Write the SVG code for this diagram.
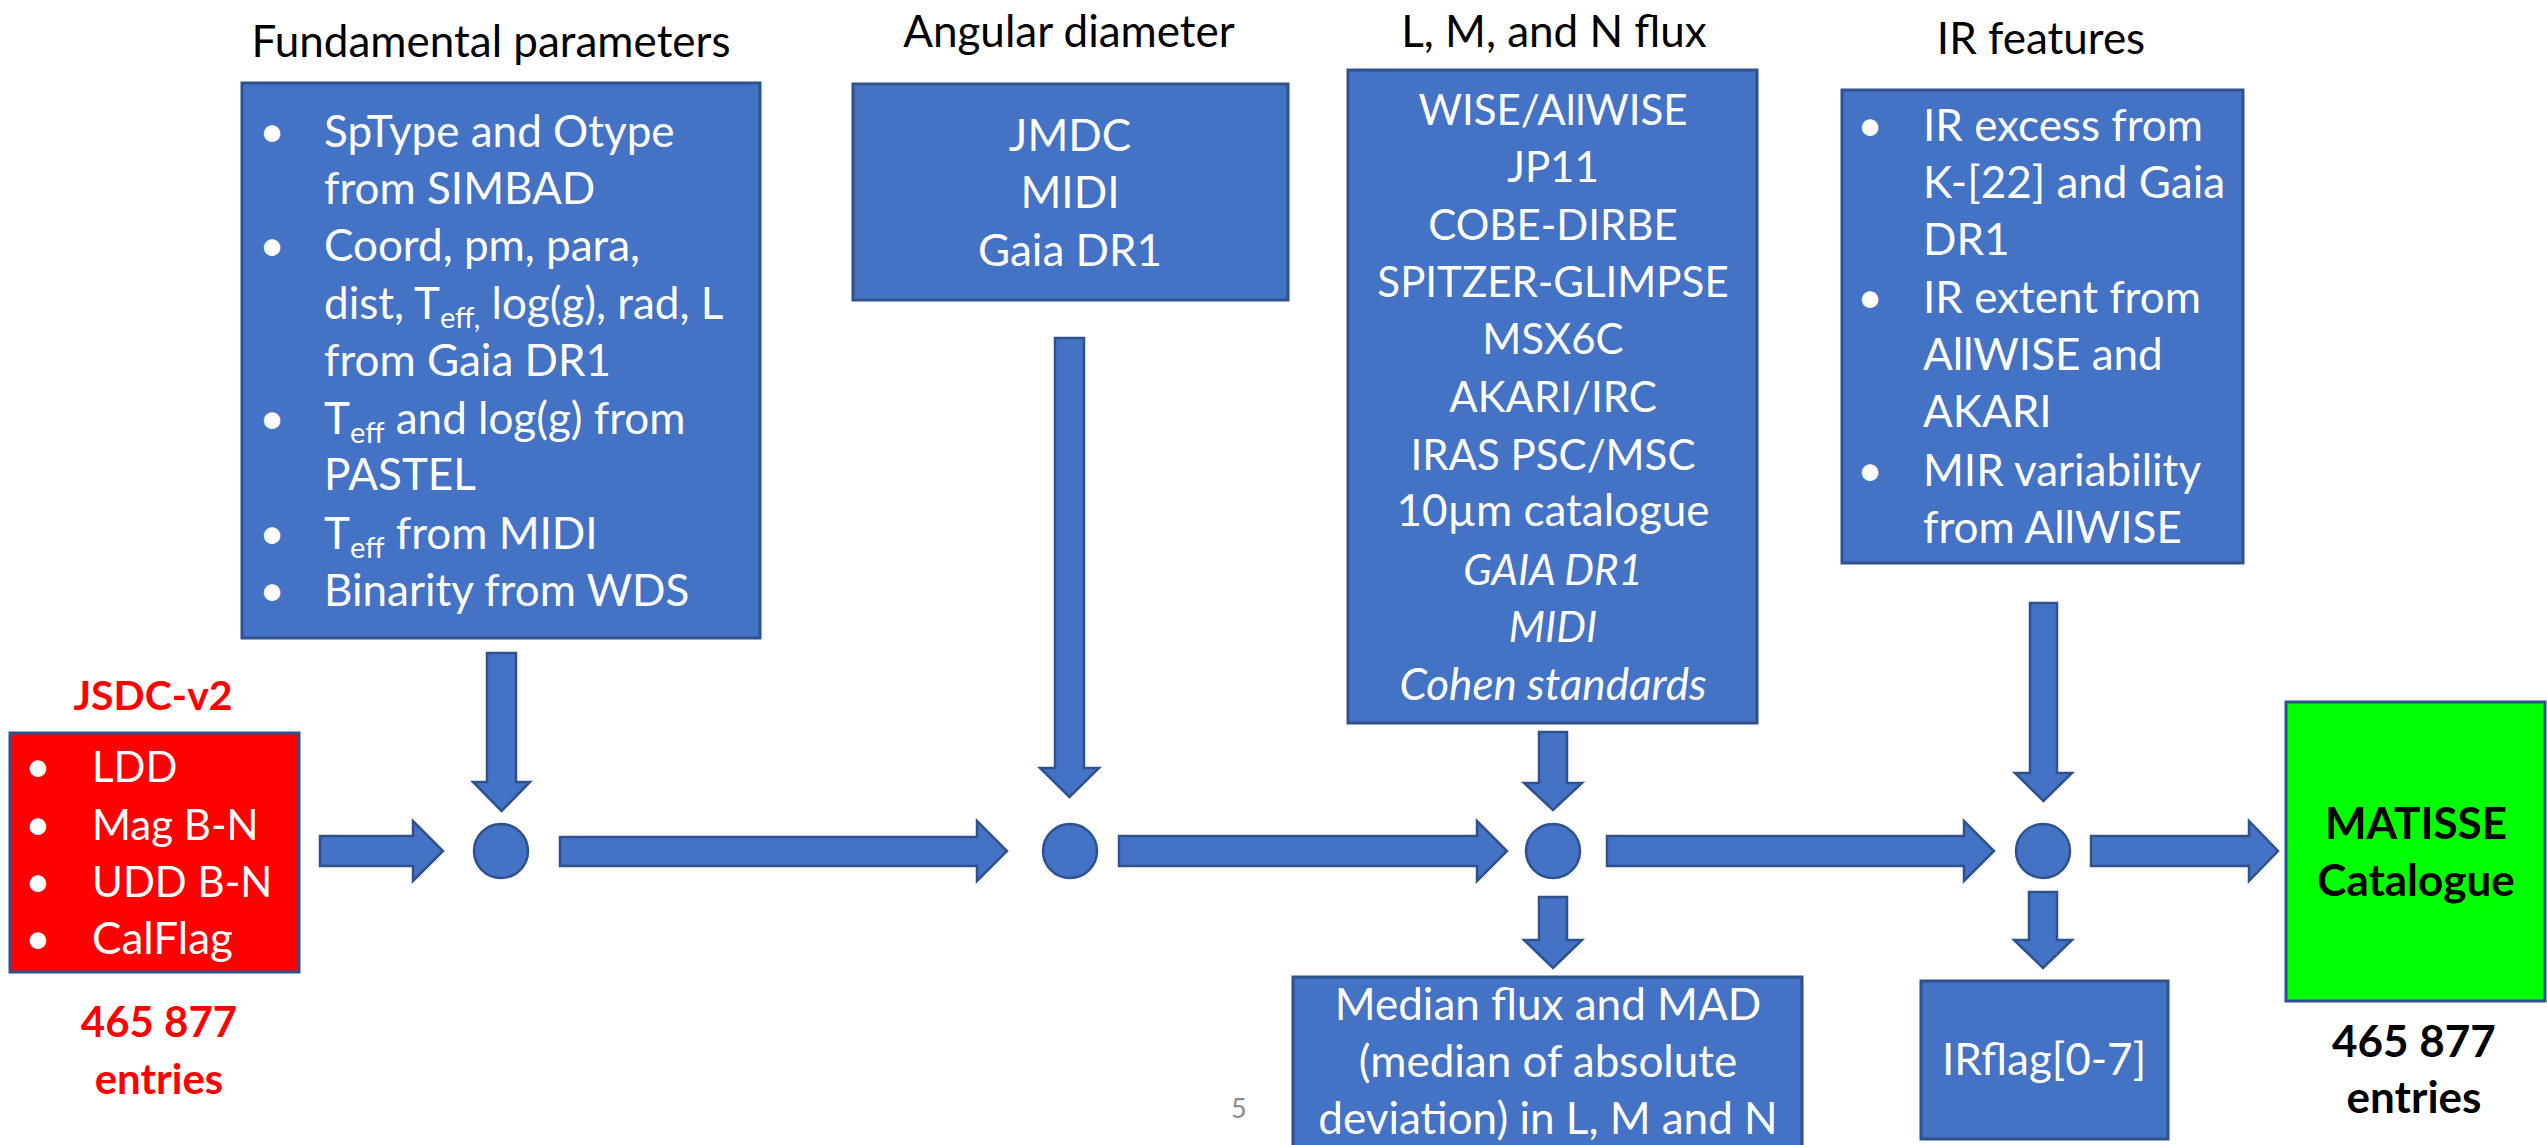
<svg xmlns="http://www.w3.org/2000/svg" width="2547" height="1145" viewBox="0 0 2547 1145">
<style>
text{font-family:Lato,"Open Sans","Liberation Sans",sans-serif;font-size:44px}
.box{fill:#4472C4;stroke:#2F528F;stroke-width:3}
.arr{fill:#4472C4;stroke:#2F528F;stroke-width:2.5;stroke-linejoin:miter}
.w{fill:#fff}
.c{text-anchor:middle}
.t{fill:#000}
.red{fill:#FF0000;font-weight:bold;font-size:42px}
.bk{fill:#000;font-weight:bold}
.it{font-style:italic}
.sub{font-size:29px}
.cap{font-size:42px}
</style>
<rect width="2547" height="1145" fill="#fff"/>

<g id="titles">
<text class="t c" x="491" y="57">Fundamental parameters</text>
<text class="t c" x="1069" y="47">Angular diameter</text>
<text class="t c" x="1554" y="47">L, M, and N flux</text>
<text class="t c" x="2041" y="54">IR features</text>
</g>

<g id="fundamental">
<rect class="box" x="242" y="83" width="518" height="555"/>
<g class="w">
<text class="c" x="272" y="147">•</text>
<text x="324" y="147">SpType and Otype</text>
<text x="324" y="204">from SIMBAD</text>
<text class="c" x="272" y="261">•</text>
<text x="324" y="261">Coord, pm, para,</text>
<text x="324" y="319">dist, T<tspan class="sub" dy="9">eff,</tspan><tspan dy="-9"> log(g), rad, L</tspan></text>
<text x="324" y="376">from Gaia DR1</text>
<text class="c" x="272" y="434">•</text>
<text x="324" y="434">T<tspan class="sub" dy="9">eff</tspan><tspan dy="-9"> and log(g) from</tspan></text>
<text x="324" y="490">PASTEL</text>
<text class="c" x="272" y="549">•</text>
<text x="324" y="549">T<tspan class="sub" dy="9">eff</tspan><tspan dy="-9"> from MIDI</tspan></text>
<text class="c" x="272" y="606">•</text>
<text x="324" y="606">Binarity from WDS</text>
</g>
</g>

<g id="angular">
<rect class="box" x="853" y="84" width="435" height="216"/>
<g class="w c">
<text x="1070" y="151">JMDC</text>
<text x="1070" y="208">MIDI</text>
<text x="1070" y="266">Gaia DR1</text>
</g>
</g>

<g id="lmn">
<rect class="box" x="1348" y="70" width="409" height="653"/>
<g class="w c">
<text class="cap" x="1553" y="125">WISE/AllWISE</text>
<text class="cap" x="1553" y="182">JP11</text>
<text class="cap" x="1553" y="240">COBE-DIRBE</text>
<text class="cap" x="1553" y="297">SPITZER-GLIMPSE</text>
<text class="cap" x="1553" y="354">MSX6C</text>
<text class="cap" x="1553" y="412">AKARI/IRC</text>
<text class="cap" x="1553" y="470">IRAS PSC/MSC</text>
<text x="1553" y="526">10µm catalogue</text>
<text class="it cap" x="1553" y="585">GAIA DR1</text>
<text class="it cap" x="1553" y="642">MIDI</text>
<text class="it" x="1553" y="700">Cohen standards</text>
</g>
</g>

<g id="irfeatures">
<rect class="box" x="1842" y="90" width="401" height="473"/>
<g class="w">
<text class="c" x="1870" y="141">•</text>
<text x="1923" y="141">IR excess from</text>
<text x="1923" y="198">K-[22] and Gaia</text>
<text x="1923" y="255">DR1</text>
<text class="c" x="1870" y="313">•</text>
<text x="1923" y="313">IR extent from</text>
<text x="1923" y="370">AllWISE and</text>
<text x="1923" y="427">AKARI</text>
<text class="c" x="1870" y="486">•</text>
<text x="1923" y="486">MIR variability</text>
<text x="1923" y="543">from AllWISE</text>
</g>
</g>

<g id="jsdc">
<text class="red c" x="153" y="710" style="font-size:41px">JSDC-v2</text>
<rect x="10" y="733" width="289" height="239" fill="#FF0000" stroke="#2F528F" stroke-width="3"/>
<g class="w">
<text class="c" x="38" y="782">•</text>
<text class="cap" x="92" y="782">LDD</text>
<text class="c" x="38" y="840">•</text>
<text class="cap" x="92" y="840">Mag B-N</text>
<text class="c" x="38" y="897">•</text>
<text class="cap" x="92" y="897">UDD B-N</text>
<text class="c" x="38" y="954">•</text>
<text x="92" y="954">CalFlag</text>
</g>
<text class="red c" x="159" y="1037">465 877</text>
<text class="red c" x="159" y="1094">entries</text>
</g>

<g id="median">
<rect class="box" x="1293" y="977" width="509" height="175"/>
<g class="w c">
<text x="1548" y="1020">Median flux and MAD</text>
<text x="1548" y="1077">(median of absolute</text>
<text x="1548" y="1134">deviation) in L, M and N</text>
</g>
</g>

<g id="irflag">
<rect class="box" x="1921" y="981" width="247" height="158"/>
<text class="w c" x="2044" y="1075">IRflag[0-7]</text>
</g>

<g id="matisse">
<rect x="2286" y="702" width="259" height="299" fill="#00FF00" stroke="#2F528F" stroke-width="3"/>
<text class="bk c" x="2416" y="839">MATISSE</text>
<text class="bk c" x="2416" y="896">Catalogue</text>
<text class="bk c" x="2414" y="1057">465 877</text>
<text class="bk c" x="2414" y="1113">entries</text>
</g>

<g id="nodes">
<circle class="arr" id="merge1" cx="501" cy="851" r="27"/>
<circle class="arr" id="merge2" cx="1070" cy="851" r="27"/>
<circle class="arr" id="merge3" cx="1553" cy="851" r="27"/>
<circle class="arr" id="merge4" cx="2043" cy="851" r="27"/>
</g>

<g id="connectors">
<polygon class="arr" points="320,836 413,836 413,821 443,851 413,881 413,866 320,866"/>
<polygon class="arr" points="560,837 977,837 977,821 1007,851 977,881 977,866 560,866"/>
<polygon class="arr" points="1119,836 1477,836 1477,821 1507,851 1477,881 1477,866 1119,866"/>
<polygon class="arr" points="1607,836 1964,836 1964,821 1994,851 1964,881 1964,866 1607,866"/>
<polygon class="arr" points="2091,836 2249,836 2249,821 2278,851 2249,881 2249,866 2091,866"/>
<polygon class="arr" points="487,653 516,653 516,782 530,782 501.5,811 473,782 487,782"/>
<polygon class="arr" points="1055,338 1084,338 1084,768 1099,768 1069.5,797 1040,768 1055,768"/>
<polygon class="arr" points="1539,732 1567,732 1567,783 1582,783 1553,810 1524,783 1539,783"/>
<polygon class="arr" points="2030,603 2057,603 2057,773 2072,773 2043.5,801 2015,773 2030,773"/>
<polygon class="arr" points="1539,897 1567,897 1567,940 1582,940 1553,968 1524,940 1539,940"/>
<polygon class="arr" points="2029,892 2057,892 2057,940 2072,940 2043,968 2014,940 2029,940"/>
</g>

<text x="1231" y="1118" fill="#8C8C8C" style="font-size:27px">5</text>
</svg>
